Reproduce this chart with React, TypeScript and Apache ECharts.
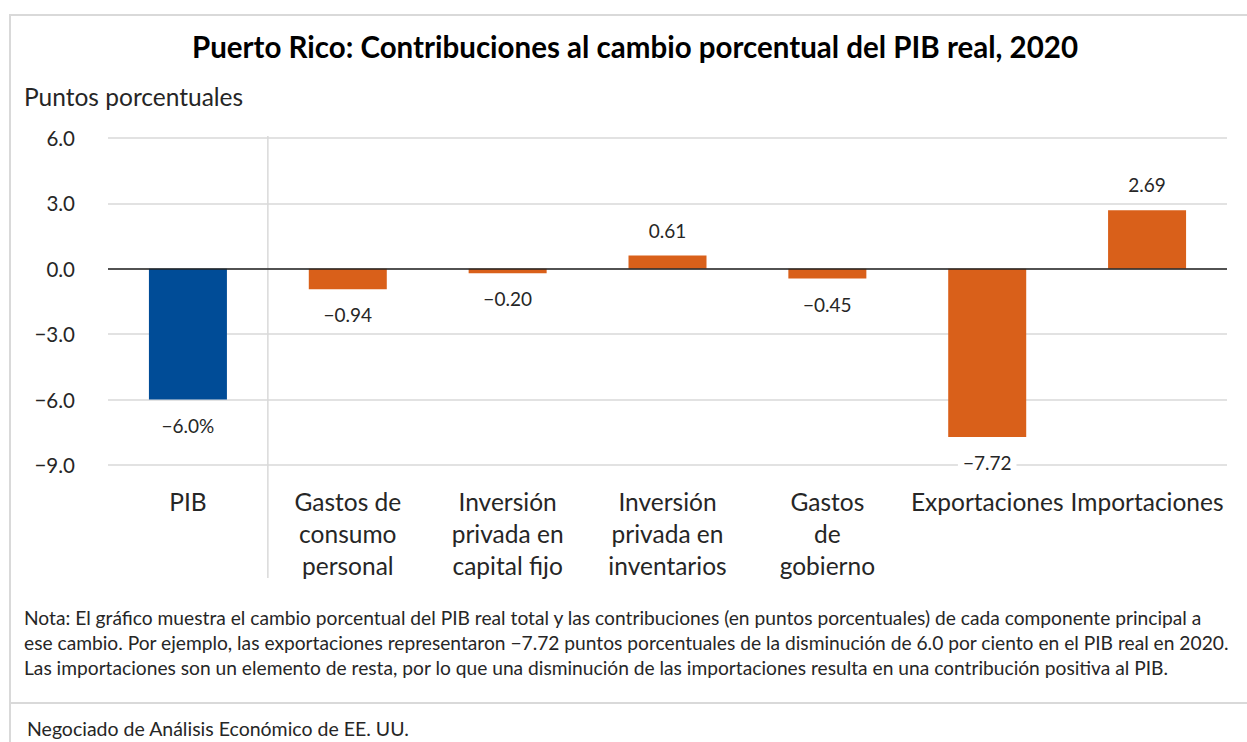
import React, { useEffect, useRef } from "react";
import * as echarts from "echarts";

const TITLE = "Puerto Rico: Contribuciones al cambio porcentual del PIB real, 2020";
const Y_UNIT = "Puntos porcentuales";
const categories = [
  "PIB",
  "Gastos de\nconsumo\npersonal",
  "Inversión\nprivada en\ncapital fijo",
  "Inversión\nprivada en\ninventarios",
  "Gastos\nde\ngobierno",
  "Exportaciones",
  "Importaciones",
];
const values = [-6.0, -0.94, -0.2, 0.61, -0.45, -7.72, 2.69];
const yMin = -9;
const yMax = 6;
const yInterval = 3;
const NOTE_LINES = [
  "Nota: El gráfico muestra el cambio porcentual del PIB real total y las contribuciones (en puntos porcentuales) de cada componente principal a",
  "ese cambio. Por ejemplo, las exportaciones representaron \u22127.72 puntos porcentuales de la disminución de 6.0 por ciento en el PIB real en 2020.",
  "Las importaciones son un elemento de resta, por lo que una disminución de las importaciones resulta en una contribución positiva al PIB.",
];
const SOURCE = "Negociado de Análisis Económico de EE. UU.";

const FONT = "Lato, 'Open Sans', sans-serif";
const TEXT = "#262626";
const BLUE = "#004C97";
const ORANGE = "#D9601A";
const GRID_C = "#d9d9d9";

const fmt = (v: number, d: number) => (v < 0 ? "\u2212" : "") + Math.abs(v).toFixed(d);

export default function App() {
  const ref = useRef<HTMLDivElement>(null);
  useEffect(() => {
    if (!ref.current) return;
    const chart = echarts.init(ref.current, null, { renderer: "svg" });
    const baseGraphic = (sepX: number | null) => {
      const g: any[] = [
        { id: "bTop", type: "line", shape: { x1: 10, y1: 15, x2: 1247, y2: 15 }, style: { stroke: GRID_C, lineWidth: 2 }, silent: true },
        { id: "bLeft", type: "line", shape: { x1: 10, y1: 14, x2: 10, y2: 742 }, style: { stroke: GRID_C, lineWidth: 2 }, silent: true },
        { id: "bMid", type: "line", shape: { x1: 10, y1: 703, x2: 1247, y2: 703 }, style: { stroke: GRID_C, lineWidth: 2 }, silent: true },
        { id: "title", type: "text", x: 635, y: 46, style: { text: TITLE, font: `bold 29.5px ${FONT}`, fill: "#000", align: "center", verticalAlign: "middle" } },
        { id: "unit", type: "text", x: 24, y: 96, style: { text: Y_UNIT, font: `24.5px ${FONT}`, fill: TEXT, align: "left", verticalAlign: "middle" } },
        { id: "note", type: "text", x: 24, y: 604.5, style: { text: NOTE_LINES.join("\n"), font: `19.2px ${FONT}`, lineHeight: 25, fill: TEXT, align: "left", verticalAlign: "top" } },
        { id: "src", type: "text", x: 27, y: 728, style: { text: SOURCE, font: `19.5px ${FONT}`, fill: TEXT, align: "left", verticalAlign: "middle" } },
      ];
      if (sepX !== null) {
        g.push({ id: "sep", type: "line", shape: { x1: sepX, y1: 136, x2: sepX, y2: 578 }, style: { stroke: GRID_C, lineWidth: 1.5 }, silent: true });
      }
      return g;
    };
    chart.setOption({
      animation: false,
      textStyle: { fontFamily: FONT },
      grid: { left: 108, right: 20, top: 138, bottom: 277, containLabel: false },
      xAxis: {
        type: "category",
        data: categories,
        axisLine: { show: false, onZero: false },
        axisTick: { show: false },
        axisLabel: { fontSize: 24.5, lineHeight: 32, color: TEXT, margin: 20, interval: 0, fontFamily: FONT },
        splitLine: { show: false },
      },
      yAxis: {
        type: "value",
        min: yMin,
        max: yMax,
        interval: yInterval,
        axisLine: { show: false },
        axisTick: { show: false },
        axisLabel: { fontSize: 20.5, color: TEXT, margin: 33, fontFamily: FONT, formatter: (v: number) => fmt(v, 1) },
        splitLine: { lineStyle: { color: GRID_C, width: 1.5 } },
      },
      series: [
        {
          type: "bar",
          data: values,
          barWidth: 78,
          itemStyle: { color: (p: any) => (p.dataIndex === 0 ? BLUE : ORANGE) },
          label: {
            show: true,
            position: "outside",
            distance: 16,
            fontSize: 19,
            color: TEXT,
            fontFamily: FONT,
            backgroundColor: "#fff",
            padding: [0, 5],
            formatter: (p: any) => (p.dataIndex === 0 ? fmt(p.value, 1) + "%" : fmt(p.value, 2)),
          },
          markLine: {
            silent: true,
            symbol: "none",
            label: { show: false },
            lineStyle: { color: "#222", width: 1.5, type: "solid" },
            data: [{ yAxis: 0 }],
          },
        },
      ],
      graphic: baseGraphic(null),
    });
    const x0 = chart.convertToPixel({ xAxisIndex: 0 }, 0) as number;
    const x1 = chart.convertToPixel({ xAxisIndex: 0 }, 1) as number;
    chart.setOption({ graphic: baseGraphic((x0 + x1) / 2) });
    return () => chart.dispose();
  }, []);
  return <div ref={ref} style={{ position: "absolute", left: 0, top: 0, width: 1247, height: 742, background: "#fff" }} />;
}
